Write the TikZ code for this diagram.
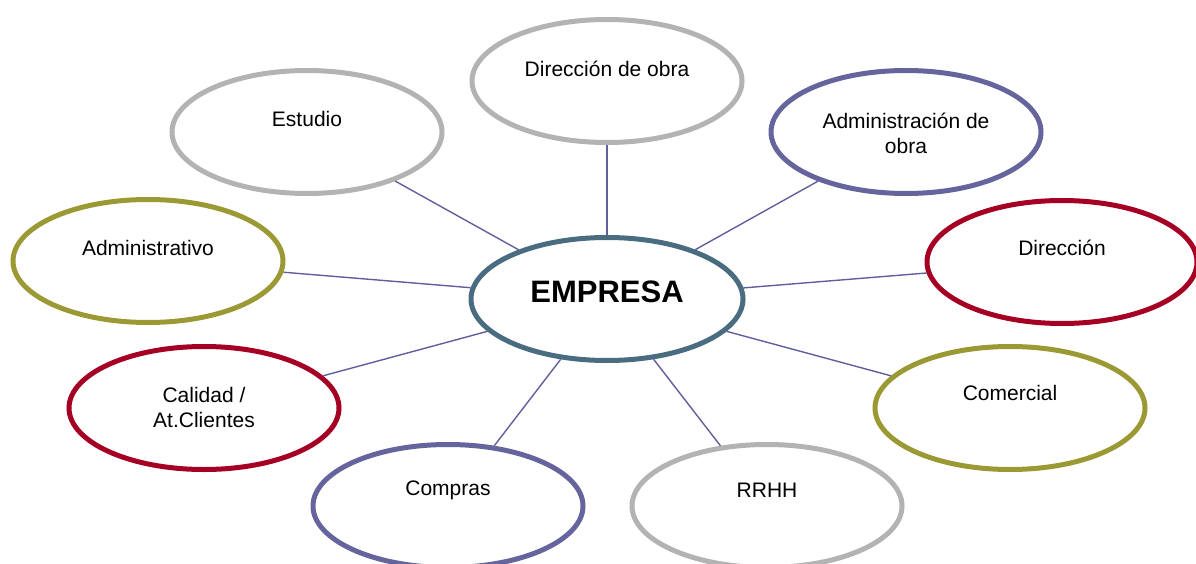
\documentclass[tikz,border=0pt]{standalone}
\usepackage{fontspec}
\setmainfont{Liberation Sans}
\usepackage{xcolor}
\usetikzlibrary{shapes.geometric}

\definecolor{gris}{RGB}{179,179,179}
\definecolor{lila}{RGB}{102,100,156}
\definecolor{rojo}{RGB}{165,0,36}
\definecolor{oliva}{RGB}{155,153,51}
\definecolor{petrol}{RGB}{74,108,128}
\definecolor{enlace}{RGB}{98,94,158}

\tikzset{
  bubble/.style={ellipse, fill=white, line width=5pt, minimum width=270pt, minimum height=123pt, inner sep=0pt},
  link/.style={draw=enlace, line width=1.4pt},
  every label/.style={align=center, font=\fontsize{21}{25}\selectfont}
}

\begin{document}
\begin{tikzpicture}[x=1pt, y=-1pt]
    \useasboundingbox (0,0) rectangle (1196,564);
    % centro
    \node[bubble, draw=petrol, minimum width=272pt, label={[yshift=7pt, font=\bfseries\fontsize{31}{36}\selectfont]center:EMPRESA}] (empresa) at (607,299) {};
    % departamentos
    \node[bubble, draw=gris, label={[yshift=12pt]center:Dirección de obra}] (obra) at (607,81) {};
    \node[bubble, draw=gris, label={[yshift=13pt]center:Estudio}] (estudio) at (307,132) {};
    \node[bubble, draw=lila, label={[yshift=-1pt]center:Administración de\\obra}] (adminobra) at (906,132) {};
    \node[bubble, draw=oliva, label={[yshift=13pt]center:Administrativo}] (administrativo) at (148,261) {};
    \node[bubble, draw=rojo, label={[yshift=14pt]center:Dirección}] (direccion) at (1062,262) {};
    \node[bubble, draw=rojo, label={[yshift=1pt]center:Calidad /\\At.Clientes}] (calidad) at (204,408) {};
    \node[bubble, draw=oliva, label={[yshift=15pt]center:Comercial}] (comercial) at (1010,408) {};
    \node[bubble, draw=lila, label={[yshift=16pt]center:Compras}] (compras) at (448,506) {};
    \node[bubble, draw=gris, label={[yshift=16pt]center:RRHH}] (rrhh) at (767,506) {};
    % enlaces
    \foreach \n in {obra, estudio, adminobra, administrativo, direccion, calidad, comercial, compras, rrhh}
        \draw[link] (empresa) -- (\n);
\end{tikzpicture}
\end{document}
